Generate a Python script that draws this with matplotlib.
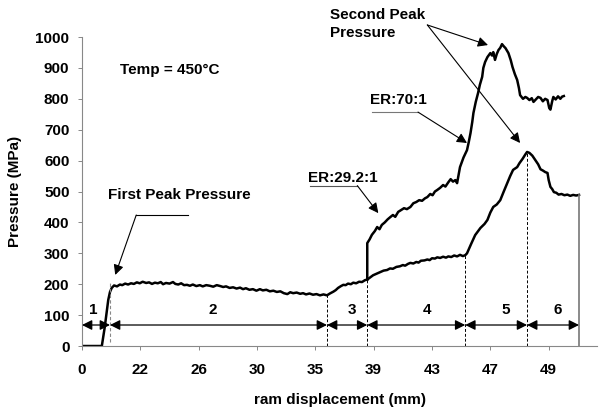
import matplotlib.pyplot as plt
import numpy as np

plt.rcParams['font.family'] = ['Liberation Sans', 'DejaVu Sans']
plt.rcParams['font.weight'] = 'bold'
plt.rcParams['axes.labelweight'] = 'bold'

# x is the position along the (evenly spaced) tick axis
tick_labels = ['0', '22', '26', '30', '35', '39', '43', '47', '49']

# ER:29.2:1 trace
low_x = [0.00, 0.34, 0.39, 0.45, 0.48, 0.51, 0.55, 0.60, 0.65, 0.69, 0.74, 0.79, 0.84, 0.89, 0.94,
         0.99, 1.04, 1.10, 1.15, 1.20, 1.25, 1.30, 1.35, 1.39, 1.44, 1.50, 1.56, 1.60, 1.65, 1.70,
         1.75, 1.80, 1.85, 1.90, 1.96, 2.02, 2.07, 2.13, 2.19, 2.25, 2.31, 2.37, 2.42, 2.47, 2.53,
         2.59, 2.65, 2.71, 2.76, 2.81, 2.87, 2.93, 2.99, 3.05, 3.10, 3.16, 3.22, 3.28, 3.34, 3.40,
         3.46, 3.52, 3.57, 3.62, 3.68, 3.74, 3.79, 3.84, 3.90, 3.96, 4.02, 4.08, 4.14, 4.20, 4.25,
         4.31, 4.35, 4.39, 4.44, 4.48, 4.52, 4.56, 4.61, 4.65, 4.70, 4.75, 4.80, 4.85, 4.89, 4.94,
         4.99, 5.05, 5.11, 5.17, 5.23, 5.28, 5.33, 5.39, 5.45, 5.50, 5.54, 5.59, 5.63, 5.68, 5.73,
         5.77, 5.81, 5.87, 5.92, 5.96, 6.00, 6.05, 6.09, 6.14, 6.19, 6.24, 6.28, 6.33, 6.38, 6.43,
         6.48, 6.53, 6.57, 6.60, 6.67, 6.74, 6.83, 6.90, 6.95, 7.00, 7.05, 7.11, 7.17, 7.23, 7.29,
         7.34, 7.39, 7.46, 7.50, 7.55, 7.60, 7.63, 7.67, 7.72, 7.77, 7.82, 7.86, 7.90, 7.94, 7.98,
         8.00, 8.03, 8.06, 8.09, 8.13, 8.17, 8.22, 8.27, 8.32, 8.37, 8.42, 8.47, 8.52]
low_y = [0, 0, 61, 149, 175, 188, 196, 193, 199, 197, 202, 199, 203, 201, 206,
         203, 208, 204, 206, 201, 205, 203, 207, 200, 204, 202, 207, 201, 199, 203,
         197, 198, 195, 199, 194, 197, 193, 197, 195, 192, 197, 194, 191, 193, 188,
         190, 186, 189, 184, 187, 182, 184, 179, 184, 180, 182, 177, 179, 175, 177,
         171, 168, 174, 171, 173, 169, 171, 167, 170, 166, 168, 164, 167, 164, 170,
         176, 181, 188, 194, 198, 197, 202, 200, 205, 203, 208, 207, 213, 215, 222,
         229, 234, 239, 244, 246, 251, 250, 256, 258, 262, 260, 266, 269, 267, 272,
         270, 276, 277, 280, 278, 284, 283, 287, 285, 289, 286, 290, 288, 293, 290,
         295, 291, 294, 300, 330, 359, 382, 395, 408, 432, 450, 458, 472, 500, 527,
         550, 570, 579, 592, 605, 620, 628, 625, 616, 602, 588, 572, 568, 563, 560,
         537, 515, 508, 498, 496, 490, 492, 488, 490, 486, 489, 487, 489]

# ER:70:1 trace
high_x = [4.89, 4.89, 4.93, 4.97, 5.02, 5.06, 5.10, 5.14, 5.19, 5.24, 5.29, 5.33, 5.37, 5.42, 5.47,
          5.52, 5.57, 5.63, 5.68, 5.73, 5.78, 5.83, 5.88, 5.92, 5.97, 6.01, 6.05, 6.09, 6.14, 6.19,
          6.23, 6.28, 6.32, 6.36, 6.40, 6.43, 6.48, 6.54, 6.60, 6.63, 6.66, 6.69, 6.71, 6.75, 6.79,
          6.82, 6.86, 6.88, 6.91, 6.95, 7.00, 7.03, 7.05, 7.08, 7.11, 7.14, 7.17, 7.20, 7.23, 7.26,
          7.31, 7.35, 7.38, 7.42, 7.46, 7.49, 7.51, 7.56, 7.60, 7.63, 7.67, 7.71, 7.74, 7.78, 7.82,
          7.86, 7.90, 7.94, 7.98, 8.01, 8.03, 8.06, 8.08, 8.12, 8.16, 8.20, 8.23, 8.26]
high_y = [215, 333, 345, 360, 372, 385, 378, 392, 400, 410, 418, 424, 418, 434, 440,
          446, 443, 450, 462, 466, 472, 470, 478, 482, 492, 488, 500, 505, 512, 521,
          516, 530, 540, 532, 537, 527, 579, 610, 634, 660, 689, 725, 754, 790, 819,
          845, 871, 900, 919, 935, 948, 940, 951, 926, 945, 958, 965, 977, 970, 964,
          948, 925, 903, 880, 861, 835, 812, 800, 806, 803, 796, 802, 790, 798, 806,
          803, 792, 800, 796, 770, 765, 792, 806, 798, 808, 800, 807, 809]

# stage boundaries and the curve value where each dashed marker starts
bounds = [0, 0.48, 4.20, 4.89, 6.57, 7.63, 8.52]
bound_top = [207, 165, 215, 294, 628, 489]
stage_names = ['1', '2', '3', '4', '5', '6']
stage_label_x = [0.19, 2.25, 4.63, 5.92, 7.26, 8.16]

fs = 11

fig = plt.figure(figsize=(6.06, 4.09), dpi=100)
ax = fig.add_axes([0.1353, 0.154, 0.85, 0.7555])

ax.plot(low_x, low_y, color='k', lw=1.8)
ax.plot(high_x, high_y, color='k', lw=1.8)

# dashed stage markers
ax.plot([bounds[1]] * 2, [13, bound_top[0]], color='#888888', ls=(0, (3, 2)), lw=0.8)
for b, t in zip(bounds[2:-1], bound_top[1:-1]):
    ax.plot([b, b], [0, t], color='k', ls=(0, (3, 2)), lw=0.7)
ax.plot([bounds[-1]] * 2, [0, bound_top[-1]], color='#777777', lw=1.2)

# stage arrows
for a, b in zip(bounds[:-1], bounds[1:]):
    ax.annotate('', xy=(b, 68), xytext=(a, 68),
                arrowprops=dict(arrowstyle='<|-|>', color='k', lw=0.9,
                                mutation_scale=15, shrinkA=0, shrinkB=0))
for sx, s in zip(stage_label_x, stage_names):
    ax.text(sx, 116, s, ha='center', va='center', fontsize=fs)

ax.text(0.65, 893, 'Temp = 450°C', va='center', fontsize=fs)

# First peak label with elbow arrow
ax.text(0.45, 489, 'First Peak Pressure', va='center', fontsize=fs)
ax.plot([0.93, 1.82], [424, 424], color='k', lw=0.8)
ax.annotate('', xy=(0.57, 230), xytext=(0.93, 424),
            arrowprops=dict(arrowstyle='-|>', color='k', lw=0.8,
                            mutation_scale=15, shrinkA=0, shrinkB=0))

ax.text(3.88, 544, 'ER:29.2:1', va='center', fontsize=fs)
ax.plot([3.91, 4.72], [519, 519], color='#555555', lw=0.8)
ax.annotate('', xy=(5.08, 430), xytext=(4.72, 519),
            arrowprops=dict(arrowstyle='-|>', color='k', lw=0.8,
                            mutation_scale=15, shrinkA=0, shrinkB=0))

ax.text(4.94, 796, 'ER:70:1', va='center', fontsize=fs)
ax.plot([4.97, 5.76], [757, 757], color='#777777', lw=0.8)
ax.annotate('', xy=(6.60, 657), xytext=(5.76, 757),
            arrowprops=dict(arrowstyle='-|>', color='k', lw=0.8,
                            mutation_scale=15, shrinkA=0, shrinkB=0))

ax.text(4.25, 1071, 'Second Peak', va='center', fontsize=fs, clip_on=False)
ax.text(4.25, 1013, 'Pressure', va='center', fontsize=fs, clip_on=False)
for tip in [(6.96, 974), (7.51, 657)]:
    ax.annotate('', xy=tip, xytext=(5.92, 1039),
                arrowprops=dict(arrowstyle='-|>', color='k', lw=0.8,
                                mutation_scale=15, shrinkA=0, shrinkB=0),
                annotation_clip=False)

ax.set_xlim(0, 8.83)
ax.set_ylim(0, 1000)
ax.set_xticks(np.arange(len(tick_labels)))
ax.set_xticklabels(tick_labels)
ax.set_yticks(np.arange(0, 1001, 100))
ax.tick_params(labelsize=fs, length=3, width=0.7, color='#888888')
ax.tick_params(axis='x', pad=9)
ax.tick_params(axis='y', pad=6)
for side in ['top', 'right']:
    ax.spines[side].set_visible(False)
for side in ['left', 'bottom']:
    ax.spines[side].set_color('#888888')
    ax.spines[side].set_linewidth(0.8)
ax.set_xlabel('ram displacement (mm)', fontsize=fs, labelpad=12)
ax.set_ylabel('Pressure (MPa)', fontsize=fs, labelpad=10)

plt.savefig('out.png', dpi=100)
